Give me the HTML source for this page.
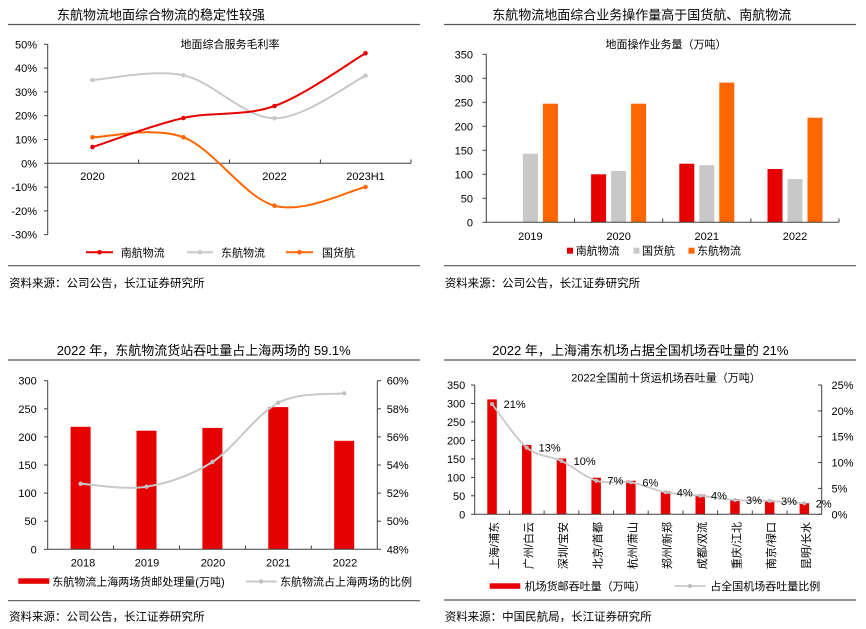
<!DOCTYPE html>
<html><head><meta charset="utf-8">
<style>
html,body{margin:0;padding:0;background:#fff;}
svg{display:block;}
text{font-family:"Liberation Sans","Noto Sans CJK SC",sans-serif;fill:#000;}
.t{font-size:13px;}
.a{font-size:11px;}
.s{font-size:11.5px;}
.ax{stroke:#404040;stroke-width:1;fill:none;}
.rule{stroke:#555;stroke-width:1.2;}
</style></head>
<body>
<svg width="866" height="629" viewBox="0 0 866 629" xmlns="http://www.w3.org/2000/svg">
<rect width="866" height="629" fill="#fff"/>

<!-- ================= TOP LEFT ================= -->
<text class="t" x="57" y="19.5">东航物流地面综合物流的稳定性较强</text>
<line class="rule" x1="8" y1="24.5" x2="420" y2="24.5"/>
<text class="a" x="230" y="48" text-anchor="middle">地面综合服务毛利率</text>
<line class="ax" x1="47.7" y1="44.3" x2="47.7" y2="234.7"/>
<g class="ax">
<line x1="44" y1="44.3" x2="47.7" y2="44.3"/><line x1="44" y1="68.1" x2="47.7" y2="68.1"/>
<line x1="44" y1="91.9" x2="47.7" y2="91.9"/><line x1="44" y1="115.7" x2="47.7" y2="115.7"/>
<line x1="44" y1="139.5" x2="47.7" y2="139.5"/><line x1="44" y1="163.3" x2="47.7" y2="163.3"/>
<line x1="44" y1="187.1" x2="47.7" y2="187.1"/><line x1="44" y1="210.9" x2="47.7" y2="210.9"/>
<line x1="44" y1="234.7" x2="47.7" y2="234.7"/>
<line x1="47.7" y1="163.3" x2="411" y2="163.3"/>
<line x1="138.6" y1="159.5" x2="138.6" y2="163.3"/><line x1="229.5" y1="159.5" x2="229.5" y2="163.3"/>
<line x1="320.4" y1="159.5" x2="320.4" y2="163.3"/><line x1="411" y1="159.5" x2="411" y2="163.3"/>
</g>
<g class="a" text-anchor="end">
<text x="37" y="48.3">50%</text><text x="37" y="72.1">40%</text><text x="37" y="95.9">30%</text>
<text x="37" y="119.7">20%</text><text x="37" y="143.5">10%</text><text x="37" y="167.3">0%</text>
<text x="37" y="191.1">-10%</text><text x="37" y="214.9">-20%</text><text x="37" y="238.7">-30%</text>
</g>
<g class="a" text-anchor="middle">
<text x="92.5" y="180">2020</text><text x="183.5" y="180">2021</text>
<text x="274.5" y="180">2022</text><text x="365.5" y="180">2023H1</text>
</g>
<!-- 东航物流 gray -->
<path d="M92.5,80 C107.7,79.2 153.2,68.9 183.5,75.3 C213.8,81.7 244.2,118.2 274.5,118.3 C304.8,118.4 350.3,82.8 365.5,75.7" fill="none" stroke="#c8c8c8" stroke-width="2"/>
<!-- 国货航 orange -->
<path d="M92.5,137.3 C107.7,137.3 153.2,125.9 183.5,137.3 C213.8,148.7 244.2,197.4 274.5,205.7 C304.8,214 350.3,190.1 365.5,187" fill="none" stroke="#ff6600" stroke-width="2"/>
<!-- 南航物流 red -->
<path d="M92.5,147 C107.7,142.2 153.2,124.8 183.5,118 C213.8,111.2 244.2,116.8 274.5,106 C304.8,95.2 350.3,62.1 365.5,53.3" fill="none" stroke="#e60000" stroke-width="2"/>
<g fill="#c8c8c8"><circle cx="92.5" cy="80" r="2.3"/><circle cx="183.5" cy="75.3" r="2.3"/><circle cx="274.5" cy="118.3" r="2.3"/><circle cx="365.5" cy="75.7" r="2.3"/></g>
<g fill="#ff6600"><circle cx="92.5" cy="137.3" r="2.3"/><circle cx="183.5" cy="137.3" r="2.3"/><circle cx="274.5" cy="205.7" r="2.3"/><circle cx="365.5" cy="187" r="2.3"/></g>
<g fill="#e60000"><circle cx="92.5" cy="147" r="2.3"/><circle cx="183.5" cy="118" r="2.3"/><circle cx="274.5" cy="106" r="2.3"/><circle cx="365.5" cy="53.3" r="2.3"/></g>
<!-- legend -->
<line x1="86" y1="252.3" x2="113" y2="252.3" stroke="#e60000" stroke-width="2"/><circle cx="99.5" cy="252.3" r="2.3" fill="#e60000"/>
<text class="a" x="120.7" y="256.3">南航物流</text>
<line x1="187" y1="252.3" x2="213" y2="252.3" stroke="#c8c8c8" stroke-width="2"/><circle cx="200" cy="252.3" r="2.3" fill="#c8c8c8"/>
<text class="a" x="221" y="256.3">东航物流</text>
<line x1="286" y1="252.3" x2="313" y2="252.3" stroke="#ff6600" stroke-width="2"/><circle cx="299.5" cy="252.3" r="2.3" fill="#ff6600"/>
<text class="a" x="322" y="256.3">国货航</text>
<line class="rule" x1="8" y1="265.7" x2="420" y2="265.7"/>
<text class="s" x="9" y="287">资料来源：公司公告，长江证券研究所</text>

<!-- ================= TOP RIGHT ================= -->
<text class="t" x="492.3" y="19.5">东航物流地面综合业务操作量高于国货航、南航物流</text>
<line class="rule" x1="444" y1="24.5" x2="856" y2="24.5"/>
<text class="a" x="666" y="48" text-anchor="middle">地面操作业务量（万吨）</text>
<g fill="#e60000">
<rect x="591.1" y="174.3" width="15" height="48"/>
<rect x="679.3" y="163.7" width="15" height="58.6"/>
<rect x="767.5" y="169" width="15" height="53.3"/>
</g>
<g fill="#c8c8c8">
<rect x="522.9" y="153.7" width="15" height="68.6"/>
<rect x="611.1" y="171" width="15" height="51.3"/>
<rect x="699.3" y="165.2" width="15" height="57.1"/>
<rect x="787.5" y="179.1" width="15" height="43.2"/>
</g>
<g fill="#ff6600">
<rect x="542.9" y="103.7" width="15" height="118.6"/>
<rect x="631.1" y="103.7" width="15" height="118.6"/>
<rect x="719.3" y="82.6" width="15" height="139.7"/>
<rect x="807.5" y="117.7" width="15" height="104.6"/>
</g>
<g class="ax">
<line x1="486.3" y1="54.3" x2="486.3" y2="222.3"/>
<line x1="482.5" y1="54.3" x2="486.3" y2="54.3"/><line x1="482.5" y1="78.3" x2="486.3" y2="78.3"/>
<line x1="482.5" y1="102.3" x2="486.3" y2="102.3"/><line x1="482.5" y1="126.3" x2="486.3" y2="126.3"/>
<line x1="482.5" y1="150.3" x2="486.3" y2="150.3"/><line x1="482.5" y1="174.3" x2="486.3" y2="174.3"/>
<line x1="482.5" y1="198.3" x2="486.3" y2="198.3"/><line x1="482.5" y1="222.3" x2="486.3" y2="222.3"/>
<line x1="486.3" y1="222.3" x2="839" y2="222.3"/>
<line x1="574.5" y1="218.5" x2="574.5" y2="222.3"/><line x1="662.7" y1="218.5" x2="662.7" y2="222.3"/>
<line x1="750.9" y1="218.5" x2="750.9" y2="222.3"/><line x1="839" y1="218.5" x2="839" y2="222.3"/>
</g>
<g class="a" text-anchor="end">
<text x="473" y="58.3">350</text><text x="473" y="82.3">300</text><text x="473" y="106.3">250</text>
<text x="473" y="130.3">200</text><text x="473" y="154.3">150</text><text x="473" y="178.3">100</text>
<text x="473" y="202.3">50</text><text x="473" y="226.3">0</text>
</g>
<g class="a" text-anchor="middle">
<text x="530.4" y="240">2019</text><text x="618.6" y="240">2020</text>
<text x="706.8" y="240">2021</text><text x="795" y="240">2022</text>
</g>
<rect x="567" y="247.7" width="6" height="6" fill="#e60000"/>
<text class="a" x="575.7" y="254.7">南航物流</text>
<rect x="633.5" y="247.7" width="6" height="6" fill="#c8c8c8"/>
<text class="a" x="642" y="254.7">国货航</text>
<rect x="688.5" y="247.7" width="6" height="6" fill="#ff6600"/>
<text class="a" x="697" y="254.7">东航物流</text>
<line class="rule" x1="444" y1="265.7" x2="856" y2="265.7"/>
<text class="s" x="444.7" y="287">资料来源：公司公告，长江证券研究所</text>

<!-- ================= BOTTOM LEFT ================= -->
<text class="t" x="56.7" y="355.2">2022 年，东航物流货站吞吐量占上海两场的 59.1%</text>
<line class="rule" x1="8" y1="360" x2="420" y2="360"/>
<g fill="#e60000">
<rect x="70.6" y="426.8" width="20" height="122.5"/>
<rect x="136.5" y="430.7" width="20" height="118.6"/>
<rect x="202.4" y="427.9" width="20" height="121.4"/>
<rect x="268.3" y="407.1" width="20" height="142.2"/>
<rect x="334.2" y="440.8" width="20" height="108.5"/>
</g>
<g class="ax">
<line x1="47.7" y1="380.7" x2="47.7" y2="549.3"/>
<line x1="44" y1="380.7" x2="47.7" y2="380.7"/><line x1="44" y1="408.8" x2="47.7" y2="408.8"/>
<line x1="44" y1="436.9" x2="47.7" y2="436.9"/><line x1="44" y1="465" x2="47.7" y2="465"/>
<line x1="44" y1="493.1" x2="47.7" y2="493.1"/><line x1="44" y1="521.2" x2="47.7" y2="521.2"/>
<line x1="44" y1="549.3" x2="47.7" y2="549.3"/>
<line x1="377.3" y1="380.7" x2="377.3" y2="549.3"/>
<line x1="377.3" y1="380.7" x2="381" y2="380.7"/><line x1="377.3" y1="408.8" x2="381" y2="408.8"/>
<line x1="377.3" y1="436.9" x2="381" y2="436.9"/><line x1="377.3" y1="465" x2="381" y2="465"/>
<line x1="377.3" y1="493.1" x2="381" y2="493.1"/><line x1="377.3" y1="521.2" x2="381" y2="521.2"/>
<line x1="377.3" y1="549.3" x2="381" y2="549.3"/>
<line x1="47.7" y1="549.3" x2="377.3" y2="549.3"/>
<line x1="113.6" y1="545.5" x2="113.6" y2="549.3"/><line x1="179.5" y1="545.5" x2="179.5" y2="549.3"/>
<line x1="245.4" y1="545.5" x2="245.4" y2="549.3"/><line x1="311.3" y1="545.5" x2="311.3" y2="549.3"/>
</g>
<path d="M80.6,483.7 C91.6,484.2 124.5,490.3 146.5,486.7 C168.5,483.1 190.4,476 212.4,462 C234.4,448 256.3,414.2 278.3,402.7 C300.3,391.3 333.2,394.9 344.2,393.3" fill="none" stroke="#c8c8c8" stroke-width="2"/>
<g fill="#c0c0c0"><circle cx="80.6" cy="483.7" r="2.2"/><circle cx="146.5" cy="486.7" r="2.2"/><circle cx="212.4" cy="462" r="2.2"/><circle cx="278.3" cy="402.7" r="2.2"/><circle cx="344.2" cy="393.3" r="2.2"/></g>
<g class="a" text-anchor="end">
<text x="36.7" y="384.7">300</text><text x="36.7" y="412.8">250</text><text x="36.7" y="440.9">200</text>
<text x="36.7" y="469">150</text><text x="36.7" y="497.1">100</text><text x="36.7" y="525.2">50</text>
<text x="36.7" y="553.3">0</text>
</g>
<g class="a">
<text x="386.7" y="384.7">60%</text><text x="386.7" y="412.8">58%</text><text x="386.7" y="440.9">56%</text>
<text x="386.7" y="469">54%</text><text x="386.7" y="497.1">52%</text><text x="386.7" y="525.2">50%</text>
<text x="386.7" y="553.3">48%</text>
</g>
<g class="a" text-anchor="middle">
<text x="83" y="566.7">2018</text><text x="147" y="566.7">2019</text><text x="213" y="566.7">2020</text>
<text x="278.3" y="566.7">2021</text><text x="345" y="566.7">2022</text>
</g>
<rect x="18.3" y="578.3" width="31" height="5.5" fill="#e60000"/>
<text class="a" x="52.3" y="585.7">东航物流上海两场货邮处理量(万吨)</text>
<line x1="246" y1="581.5" x2="276.7" y2="581.5" stroke="#c8c8c8" stroke-width="2"/><circle cx="261" cy="581.5" r="2.2" fill="#c0c0c0"/>
<text class="a" x="280" y="585.7">东航物流占上海两场的比例</text>
<line class="rule" x1="8" y1="600.7" x2="420" y2="600.7"/>
<text class="s" x="9" y="620.7">资料来源：公司公告，长江证券研究所</text>

<!-- ================= BOTTOM RIGHT ================= -->
<text class="t" x="492.3" y="355.2">2022 年，上海浦东机场占据全国机场吞吐量的 21%</text>
<line class="rule" x1="444" y1="360" x2="856" y2="360"/>
<text class="a" x="666" y="381.7" text-anchor="middle">2022全国前十货运机场吞吐量（万吨）</text>
<g fill="#e60000">
<rect x="487.3" y="399.4" width="9.5" height="114.9"/>
<rect x="522" y="444.9" width="9.5" height="69.4"/>
<rect x="556.7" y="458.5" width="9.5" height="55.8"/>
<rect x="591.4" y="477.7" width="9.5" height="36.6"/>
<rect x="626.1" y="480.7" width="9.5" height="33.6"/>
<rect x="660.8" y="491.4" width="9.5" height="22.9"/>
<rect x="695.5" y="494.7" width="9.5" height="19.6"/>
<rect x="730.2" y="499.2" width="9.5" height="15.1"/>
<rect x="764.9" y="500.3" width="9.5" height="14"/>
<rect x="799.6" y="503.2" width="9.5" height="11.1"/>
</g>
<g class="ax">
<line x1="474.7" y1="385" x2="474.7" y2="514.3"/>
<line x1="471" y1="385" x2="474.7" y2="385"/><line x1="471" y1="403.5" x2="474.7" y2="403.5"/>
<line x1="471" y1="421.9" x2="474.7" y2="421.9"/><line x1="471" y1="440.4" x2="474.7" y2="440.4"/>
<line x1="471" y1="458.9" x2="474.7" y2="458.9"/><line x1="471" y1="477.4" x2="474.7" y2="477.4"/>
<line x1="471" y1="495.8" x2="474.7" y2="495.8"/><line x1="471" y1="514.3" x2="474.7" y2="514.3"/>
<line x1="821.7" y1="385" x2="821.7" y2="514.3"/>
<line x1="818" y1="385" x2="821.7" y2="385"/><line x1="818" y1="410.9" x2="821.7" y2="410.9"/>
<line x1="818" y1="436.7" x2="821.7" y2="436.7"/><line x1="818" y1="462.6" x2="821.7" y2="462.6"/>
<line x1="818" y1="488.4" x2="821.7" y2="488.4"/><line x1="818" y1="514.3" x2="821.7" y2="514.3"/>
<line x1="474.7" y1="514.3" x2="821.7" y2="514.3"/>
<line x1="509.4" y1="510.5" x2="509.4" y2="514.3"/><line x1="544.1" y1="510.5" x2="544.1" y2="514.3"/>
<line x1="578.8" y1="510.5" x2="578.8" y2="514.3"/><line x1="613.5" y1="510.5" x2="613.5" y2="514.3"/>
<line x1="648.2" y1="510.5" x2="648.2" y2="514.3"/><line x1="682.9" y1="510.5" x2="682.9" y2="514.3"/>
<line x1="717.6" y1="510.5" x2="717.6" y2="514.3"/><line x1="752.3" y1="510.5" x2="752.3" y2="514.3"/>
<line x1="787" y1="510.5" x2="787" y2="514.3"/>
</g>
<path d="M492,404 C497.8,411.3 515.2,438.2 526.8,447.7 C538.4,457.2 549.9,455.5 561.5,461 C573.1,466.5 584.6,477.2 596.2,480.7 C607.8,484.3 619.3,480.4 630.9,482.3 C642.5,484.2 654,490.1 665.6,492.3 C677.2,494.5 688.7,494.4 700.3,495.7 C711.9,497 723.4,499.1 735,500 C746.6,500.9 758.1,500.5 769.7,501 C781.3,501.6 798.6,502.9 804.4,503.3" fill="none" stroke="#c8c8c8" stroke-width="1.8"/>
<g fill="#bdbdbd">
<circle cx="492" cy="404" r="2"/><circle cx="526.8" cy="447.7" r="2"/><circle cx="561.5" cy="461" r="2"/>
<circle cx="596.2" cy="480.7" r="2"/><circle cx="630.9" cy="482.3" r="2"/><circle cx="665.6" cy="492.3" r="2"/>
<circle cx="700.3" cy="495.7" r="2"/><circle cx="735" cy="500" r="2"/><circle cx="769.7" cy="501" r="2"/>
<circle cx="804.4" cy="503.3" r="2"/>
</g>
<g class="a" text-anchor="middle">
<text x="514.7" y="408">21%</text><text x="549.7" y="451.7">13%</text><text x="584.7" y="465">10%</text>
<text x="615.3" y="484.7">7%</text><text x="650.3" y="486.3">6%</text><text x="684.7" y="496.3">4%</text>
<text x="719" y="499.7">4%</text><text x="754" y="504">3%</text><text x="789" y="505">3%</text>
<text x="823.7" y="507.3">2%</text>
</g>
<g class="a" text-anchor="end">
<text x="465.3" y="389">350</text><text x="465.3" y="407.5">300</text><text x="465.3" y="425.9">250</text>
<text x="465.3" y="444.4">200</text><text x="465.3" y="462.9">150</text><text x="465.3" y="481.4">100</text>
<text x="465.3" y="499.8">50</text><text x="465.3" y="518.3">0</text>
</g>
<g class="a">
<text x="831.5" y="389">25%</text><text x="831.5" y="414.9">20%</text><text x="831.5" y="440.7">15%</text>
<text x="831.5" y="466.6">10%</text><text x="831.5" y="492.4">5%</text><text x="831.5" y="518.3">0%</text>
</g>
<g class="a" text-anchor="end">
<text transform="translate(498,522) rotate(-90)">上海/浦东</text>
<text transform="translate(532.3,522) rotate(-90)">广州/白云</text>
<text transform="translate(567,522) rotate(-90)">深圳/宝安</text>
<text transform="translate(601.7,522) rotate(-90)">北京/首都</text>
<text transform="translate(636.4,522) rotate(-90)">杭州/萧山</text>
<text transform="translate(671.1,522) rotate(-90)">郑州/新郑</text>
<text transform="translate(705.8,522) rotate(-90)">成都/双流</text>
<text transform="translate(740.5,522) rotate(-90)">重庆/江北</text>
<text transform="translate(775.2,522) rotate(-90)">南京/禄口</text>
<text transform="translate(809.9,522) rotate(-90)">昆明/长水</text>
</g>
<rect x="489.7" y="583.3" width="30.6" height="5.5" fill="#e60000"/>
<text class="a" x="524.7" y="590">机场货邮吞吐量（万吨）</text>
<line x1="674.7" y1="586" x2="705.7" y2="586" stroke="#c8c8c8" stroke-width="1.8"/><circle cx="690" cy="586" r="2" fill="#bdbdbd"/>
<text class="a" x="710.3" y="590">占全国机场吞吐量比例</text>
<line class="rule" x1="444" y1="600" x2="856" y2="600"/>
<text class="s" x="444.7" y="620.7">资料来源：中国民航局，长江证券研究所</text>
</svg>
</body></html>
